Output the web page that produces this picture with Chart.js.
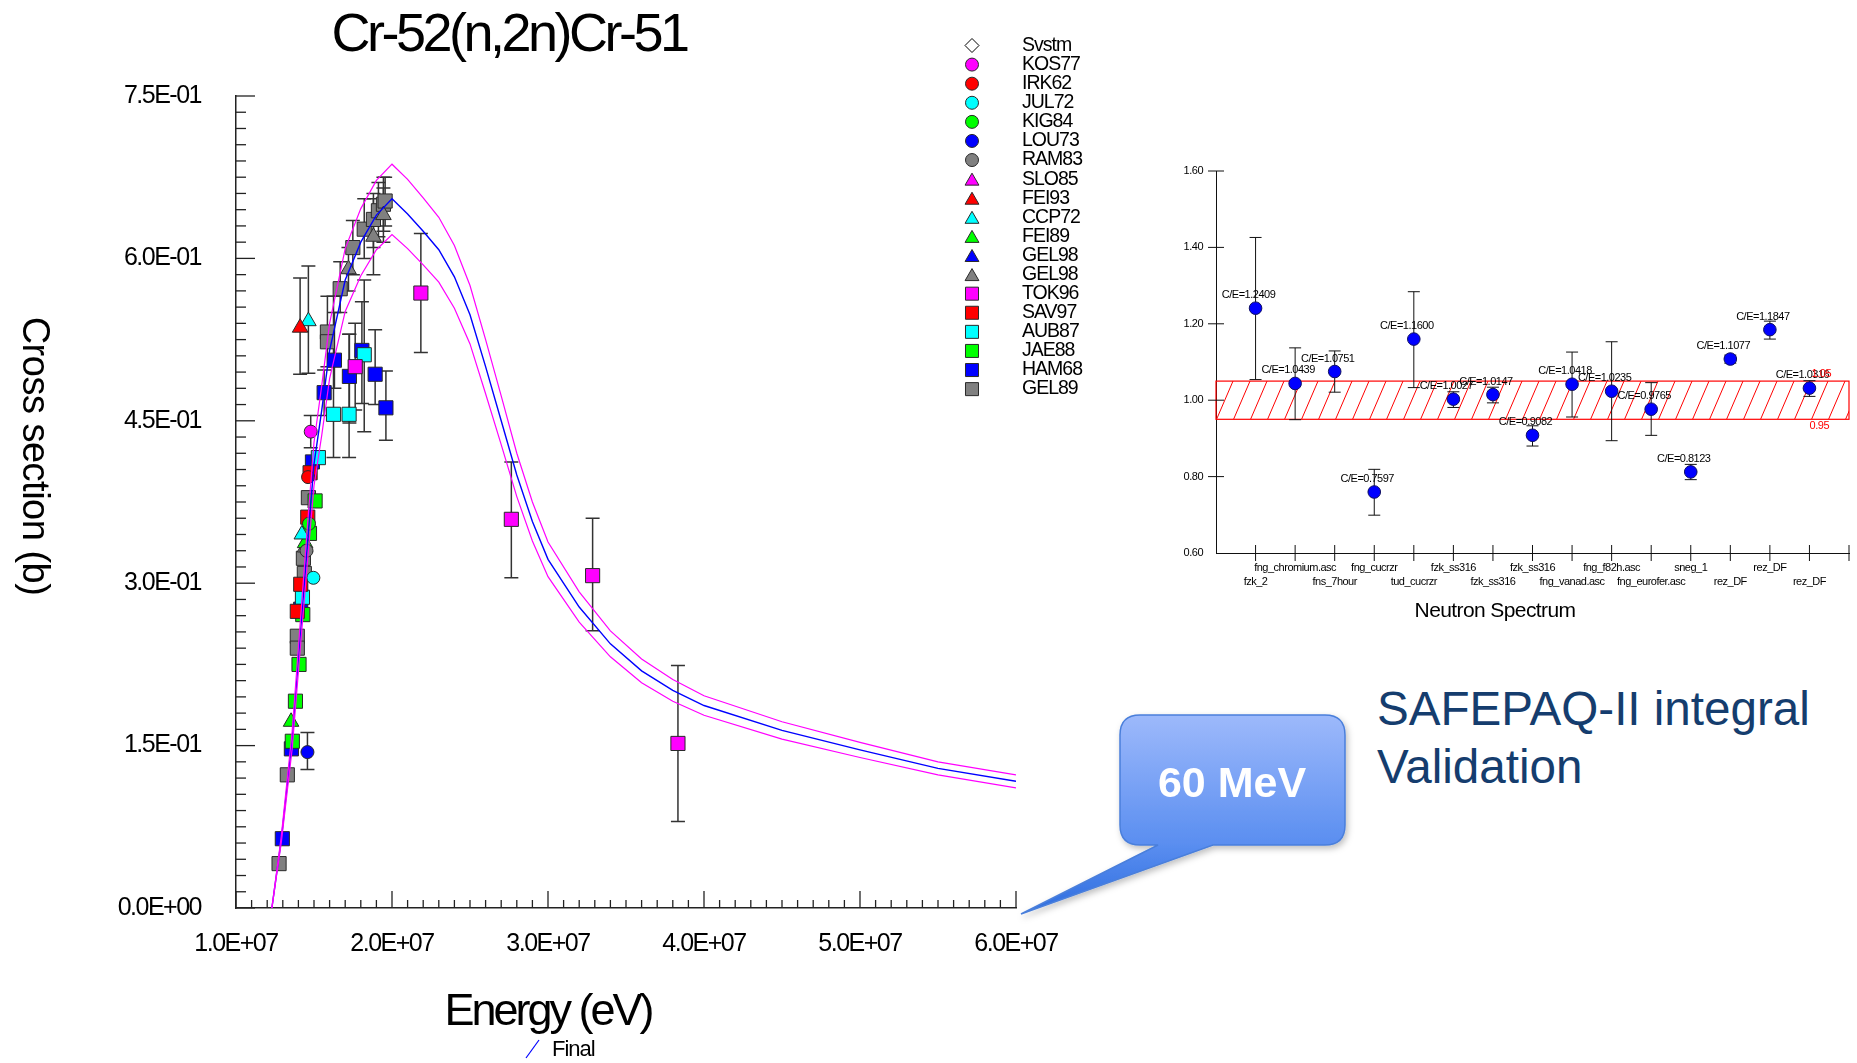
<!DOCTYPE html>
<html>
<head>
<meta charset="utf-8">
<title>Cr-52(n,2n)Cr-51</title>
<script src="https://cdn.jsdelivr.net/npm/chart.js@4.4.1/dist/chart.umd.min.js"></script>
<style>
  html, body { margin: 0; padding: 0; background: #fff; }
  body { width: 1857px; height: 1063px; position: relative; overflow: hidden; font-family: "Liberation Sans", Arial, sans-serif; }
  #main { position: absolute; left: 0; top: 0; }
  #inset { position: absolute; left: 1150px; top: 140px; }
  #callout { position: absolute; left: 1000px; top: 690px; }
  #safepaq { position: absolute; left: 1377px; top: 680px; color: #153d6e; font-size: 47.6px; line-height: 58px; white-space: nowrap; }
</style>
</head>
<body>
<canvas id="main" width="1150" height="1063"></canvas>
<canvas id="inset" width="707" height="490"></canvas>

<svg id="callout" width="370" height="240" viewBox="0 0 370 240">
  <defs>
    <linearGradient id="bubbleFill" gradientUnits="userSpaceOnUse" x1="0" y1="25" x2="0" y2="224">
      <stop offset="0" stop-color="#9db9fb"/>
      <stop offset="0.65" stop-color="#5a8ef0"/>
      <stop offset="1" stop-color="#2d6ddf"/>
    </linearGradient>
    <filter id="shade" x="-10%" y="-10%" width="130%" height="140%">
      <feDropShadow dx="2" dy="3" stdDeviation="3" flood-color="#000" flood-opacity="0.25"/>
    </filter>
  </defs>
  <path d="M140 25 H325 Q345 25 345 45 V135 Q345 155 325 155 H213 L21 224 L158 155 H140 Q120 155 120 135 V45 Q120 25 140 25 Z"
        fill="url(#bubbleFill)" stroke="#4a7fdb" stroke-width="1.5" filter="url(#shade)"/>
  <text x="232" y="107" text-anchor="middle" font-family="Liberation Sans, Arial, sans-serif" font-weight="bold" font-size="43" fill="#fff">60 MeV</text>
</svg>

<div id="safepaq">SAFEPAQ-II integral<br>Validation</div>

<script>
const FONT = '"Liberation Sans", Arial, sans-serif';
Chart.defaults.font.family = FONT;
Chart.defaults.color = '#000';

// ---- evaluated curve (Final) and its uncertainty envelope ----
const curveE = [1.23e7, 1.29e7, 1.36e7, 1.41e7, 1.46e7, 1.50e7, 1.55e7, 1.60e7, 1.70e7, 1.80e7, 1.90e7,
  2.00e7, 2.10e7, 2.20e7, 2.30e7, 2.40e7, 2.50e7, 2.60e7, 2.70e7, 2.80e7, 2.90e7, 3.00e7, 3.20e7,
  3.40e7, 3.60e7, 3.80e7, 4.00e7, 4.50e7, 5.00e7, 5.50e7, 6.00e7];
const finalXs = [0, 0.063, 0.155, 0.248, 0.34, 0.41, 0.46, 0.515, 0.58, 0.615, 0.64,
  0.655, 0.641, 0.625, 0.608, 0.583, 0.548, 0.50, 0.45, 0.40, 0.357, 0.322, 0.278,
  0.244, 0.219, 0.201, 0.187, 0.164, 0.146, 0.129, 0.117];
const upperXs = [0, 0.066, 0.163, 0.26, 0.357, 0.43, 0.483, 0.54, 0.609, 0.646, 0.672,
  0.687, 0.673, 0.656, 0.638, 0.612, 0.575, 0.525, 0.473, 0.42, 0.375, 0.338, 0.292,
  0.256, 0.23, 0.211, 0.196, 0.172, 0.153, 0.135, 0.123];
const lowerXs = [0, 0.06, 0.147, 0.236, 0.323, 0.39, 0.437, 0.489, 0.551, 0.584, 0.608,
  0.622, 0.609, 0.594, 0.578, 0.554, 0.521, 0.475, 0.428, 0.38, 0.339, 0.306, 0.264,
  0.232, 0.208, 0.191, 0.178, 0.156, 0.139, 0.123, 0.111];

// ---- experimental data: [energy eV, cross section b, low, high] ----
const svstm = [];
const kos77 = [[1.479e7, 0.440, 0.425, 0.455]];
const irk62 = [[1.462e7, 0.398]];
const jul72 = [[1.496e7, 0.305]];
const kig84 = [[1.468e7, 0.355]];
const lou73 = [[1.458e7, 0.144, 0.128, 0.162]];
const ram83 = [[1.452e7, 0.330]];
const slo85 = [];
const fei93 = [[1.411e7, 0.536, 0.493, 0.582]];
const ccp72 = [[1.464e7, 0.542, 0.494, 0.593], [1.422e7, 0.345]];
const fei89 = [[1.443e7, 0.337], [1.353e7, 0.172]];
const gel98b = [];
const gel98g = [[1.721e7, 0.590, 0.570, 0.610], [1.881e7, 0.620, 0.585, 0.655], [1.945e7, 0.640, 0.615, 0.665], [1.443e7, 0.333]];
const tok96 = [[1.764e7, 0.500, 0.460, 0.540], [2.185e7, 0.568, 0.513, 0.623], [2.765e7, 0.359, 0.305, 0.412],
  [3.286e7, 0.307, 0.256, 0.360], [3.833e7, 0.152, 0.080, 0.224]];
const sav97 = [[1.475e7, 0.402], [1.460e7, 0.361], [1.415e7, 0.299], [1.393e7, 0.274]];
const aub87 = [[1.625e7, 0.456, 0.416, 0.565], [1.725e7, 0.456, 0.416, 0.530], [1.822e7, 0.511, 0.440, 0.580],
  [1.528e7, 0.416], [1.426e7, 0.287]];
const jae88 = [[1.507e7, 0.376], [1.471e7, 0.346], [1.428e7, 0.271], [1.404e7, 0.225], [1.381e7, 0.191], [1.361e7, 0.154]];
const ham68 = [[1.490e7, 0.412], [1.565e7, 0.476, 0.455, 0.497], [1.631e7, 0.506, 0.480, 0.550],
  [1.727e7, 0.491, 0.448, 0.530], [1.807e7, 0.515, 0.466, 0.560], [1.892e7, 0.493, 0.465, 0.534],
  [1.961e7, 0.462, 0.432, 0.496], [1.415e7, 0.276], [1.355e7, 0.147], [1.297e7, 0.064]];
const gel89 = [[1.276e7, 0.041], [1.329e7, 0.123], [1.393e7, 0.251], [1.393e7, 0.240], [1.432e7, 0.323],
  [1.438e7, 0.309], [1.464e7, 0.379], [1.586e7, 0.532, 0.500, 0.565], [1.586e7, 0.523],
  [1.668e7, 0.572, 0.550, 0.597], [1.749e7, 0.610, 0.585, 0.635], [1.822e7, 0.627, 0.600, 0.655],
  [1.881e7, 0.636, 0.610, 0.660], [1.913e7, 0.644, 0.620, 0.670], [1.945e7, 0.650, 0.625, 0.675],
  [1.956e7, 0.653, 0.630, 0.675]];

// ---- integral validation (C/E per neutron spectrum) ----
const spectra = ['fzk_2', 'fng_chromium.asc', 'fns_7hour', 'fng_cucrzr', 'tud_cucrzr', 'fzk_ss316', 'fzk_ss316',
  'fzk_ss316', 'fng_vanad.asc', 'fng_f82h.asc', 'fng_eurofer.asc', 'sneg_1', 'rez_DF', 'rez_DF', 'rez_DF'];
const ceValues = [1.2409, 1.0439, 1.0751, 0.7597, 1.1600, 1.0027, 1.0147, 0.9082, 1.0418, 1.0235, 0.9765, 0.8123, 1.1077, 1.1847, 1.0316];
const ceLow = [1.054, 0.949, 1.021, 0.699, 1.033, 0.981, 0.993, 0.880, 0.956, 0.894, 0.908, 0.792, 1.097, 1.160, 1.010];
const ceHigh = [1.426, 1.137, 1.129, 0.819, 1.284, 1.022, 1.034, 0.933, 1.126, 1.153, 1.046, 0.832, 1.118, 1.207, 1.051];
const bandLow = 0.95;
const bandHigh = 1.05;

const MAG = '#ff00ff', RED = '#ff0000', CYA = '#00ffff', GRN = '#00ff00', BLU = '#0000ff', GRY = '#808080';

// label, marker, colour, points (legend follows this order)
const series = [
  ['Svstm', 'rectRot', '#ffffff', svstm],
  ['KOS77', 'circle', MAG, kos77],
  ['IRK62', 'circle', RED, irk62],
  ['JUL72', 'circle', CYA, jul72],
  ['KIG84', 'circle', GRN, kig84],
  ['LOU73', 'circle', BLU, lou73],
  ['RAM83', 'circle', GRY, ram83],
  ['SLO85', 'triangle', MAG, slo85],
  ['FEI93', 'triangle', RED, fei93],
  ['CCP72', 'triangle', CYA, ccp72],
  ['FEI89', 'triangle', GRN, fei89],
  ['GEL98', 'triangle', BLU, gel98b],
  ['GEL98', 'triangle', GRY, gel98g],
  ['TOK96', 'rect', MAG, tok96],
  ['SAV97', 'rect', RED, sav97],
  ['AUB87', 'rect', CYA, aub87],
  ['JAE88', 'rect', GRN, jae88],
  ['HAM68', 'rect', BLU, ham68],
  ['GEL89', 'rect', GRY, gel89]
];
const markerRadius = { circle: 6.5, triangle: 9, rect: 10, rectRot: 7 };

function fmtExp(v) {
  if (Math.abs(v) < 1e-12) return '0.0E+00';
  const parts = v.toExponential(1).split('e');
  const n = parseInt(parts[1], 10);
  return parts[0] + 'E' + (n < 0 ? '-' : '+') + String(Math.abs(n)).padStart(2, '0');
}

function drawMarker(ctx, style, radius, x, y) {
  if (Chart.helpers && Chart.helpers.drawPoint) {
    Chart.helpers.drawPoint(ctx, { pointStyle: style, radius: radius, rotation: 0, borderWidth: 1 }, x, y);
    return;
  }
  ctx.beginPath();
  ctx.arc(x, y, radius, 0, Math.PI * 2);
  ctx.fill();
  ctx.stroke();
}

function label(ctx, str, x, y, size, opts) {
  opts = opts || {};
  ctx.save();
  ctx.font = (opts.weight || '') + ' ' + size + 'px ' + FONT;
  ctx.letterSpacing = (opts.spacing || 0) + 'px';
  ctx.fillStyle = opts.color || '#000';
  ctx.textAlign = opts.align || 'center';
  ctx.textBaseline = opts.baseline || 'middle';
  ctx.translate(x, y);
  if (opts.rotate) ctx.rotate(opts.rotate);
  ctx.fillText(str, 0, 0);
  ctx.restore();
}

function errorBars(ctx, xs, ys, list, cap) {
  list.forEach(p => {
    if (p.lo == null) return;
    const px = xs.getPixelForValue(p.x);
    const y1 = ys.getPixelForValue(p.lo), y2 = ys.getPixelForValue(p.hi);
    ctx.beginPath();
    ctx.moveTo(px, y1); ctx.lineTo(px, y2);
    ctx.moveTo(px - cap, y1); ctx.lineTo(px + cap, y1);
    ctx.moveTo(px - cap, y2); ctx.lineTo(px + cap, y2);
    ctx.stroke();
  });
}

// ---------------- main cross-section plot ----------------
const curveSets = [
  { label: 'upper', data: curveE.map((e, i) => ({ x: e, y: upperXs[i] })), borderColor: MAG, borderWidth: 1.2 },
  { label: 'lower', data: curveE.map((e, i) => ({ x: e, y: lowerXs[i] })), borderColor: MAG, borderWidth: 1.2 },
  { label: 'Final', data: curveE.map((e, i) => ({ x: e, y: finalXs[i] })), borderColor: BLU, borderWidth: 1.4 }
].map(d => Object.assign(d, { showLine: true, pointRadius: 0, fill: false, tension: 0, order: 0 }));

const pointSets = series.map(([name, style, color, pts]) => ({
  label: name,
  data: pts.map(p => ({ x: p[0], y: p[1], lo: p[2], hi: p[3] })),
  pointStyle: style,
  pointRadius: markerRadius[style],
  backgroundColor: color,
  borderColor: '#2a2a2a',
  borderWidth: 1,
  showLine: false,
  order: 1
}));

const mainDecor = {
  id: 'mainDecor',
  beforeDraw(chart) { chart.ctx.letterSpacing = '-1.5px'; },
  beforeDatasetsDraw(chart) {
    const { ctx, scales: { x, y } } = chart;
    ctx.save();
    ctx.strokeStyle = '#333';
    ctx.lineWidth = 1.5;
    pointSets.forEach(ds => errorBars(ctx, x, y, ds.data, 7));
    ctx.restore();
  },
  afterDraw(chart) {
    const { ctx, scales: { x, y } } = chart;
    ctx.save();
    ctx.strokeStyle = '#222';
    ctx.lineWidth = 1.3;
    // inward minor / major ticks
    for (let i = 0; i <= 50; i++) {
      const px = x.getPixelForValue(1e7 + i * 1e6);
      const len = i % 10 === 0 ? 17 : 8;
      ctx.beginPath(); ctx.moveTo(px, y.bottom); ctx.lineTo(px, y.bottom - len); ctx.stroke();
    }
    for (let i = 0; i <= 50; i++) {
      const py = y.getPixelForValue(i * 0.015);
      const len = i % 10 === 0 ? 19 : 10;
      ctx.beginPath(); ctx.moveTo(x.left, py); ctx.lineTo(x.left + len, py); ctx.stroke();
    }
    ctx.restore();

    label(ctx, 'Cr-52(n,2n)Cr-51', 509, 51, 54, { spacing: -3.5, baseline: 'alphabetic' });
    label(ctx, 'Energy (eV)', 548, 1025, 45, { spacing: -3, baseline: 'alphabetic' });
    label(ctx, 'Cross section (b)', 33, 456, 38, { spacing: -0.5, rotate: Math.PI / 2 });

    // legend column
    series.forEach(([name, style, color], i) => {
      const cy = 45.5 + i * 19.09;
      ctx.save();
      ctx.fillStyle = color;
      ctx.strokeStyle = style === 'rectRot' ? '#000' : '#2a2a2a';
      ctx.lineWidth = 1;
      const r = style === 'rect' ? 9.2 : style === 'triangle' ? 8 : markerRadius[style];
      drawMarker(ctx, style, r, 972, cy + (style === 'triangle' ? 2 : 0));
      ctx.restore();
      label(ctx, name, 1022, cy, 19.5, { spacing: -1, align: 'left' });
    });

    // "Final" key under the axis title
    ctx.save();
    ctx.strokeStyle = BLU;
    ctx.lineWidth = 1.2;
    ctx.beginPath(); ctx.moveTo(526, 1058); ctx.lineTo(539, 1040); ctx.stroke();
    ctx.restore();
    label(ctx, 'Final', 552, 1050, 22, { spacing: -1, align: 'left' });
  }
};

new Chart(document.getElementById('main'), {
  type: 'scatter',
  data: { datasets: [...curveSets, ...pointSets] },
  options: {
    responsive: false,
    animation: false,
    layout: { padding: { top: 96, right: 134, left: 0, bottom: 0 } },
    plugins: { legend: { display: false }, tooltip: { enabled: false } },
    scales: {
      x: {
        type: 'linear', min: 1e7, max: 6e7,
        afterFit: s => { s.height = 155; },
        border: { color: '#222', width: 1.5 },
        grid: { display: false, drawTicks: false },
        ticks: { stepSize: 1e7, autoSkip: false, maxRotation: 0, padding: 21,
          font: { size: 25 }, color: '#000', callback: v => fmtExp(v) }
      },
      y: {
        type: 'linear', min: 0, max: 0.75,
        afterFit: s => { s.width = 236; },
        border: { color: '#222', width: 1.5 },
        grid: { display: false, drawTicks: false },
        ticks: { stepSize: 0.15, padding: 35, font: { size: 25 }, color: '#000', callback: v => fmtExp(v) }
      }
    }
  },
  plugins: [mainDecor]
});

// ---------------- C/E inset ----------------
const cePoints = ceValues.map((v, i) => ({ x: i + 1, y: v, lo: ceLow[i], hi: ceHigh[i] }));

const insetDecor = {
  id: 'insetDecor',
  beforeDraw(chart) { chart.ctx.letterSpacing = '-0.5px'; },
  beforeDatasetsDraw(chart) {
    const { ctx, scales: { x, y } } = chart;
    const x0 = x.getPixelForValue(0), x1 = x.getPixelForValue(16);
    const yt = y.getPixelForValue(bandHigh), yb = y.getPixelForValue(bandLow);
    ctx.save();
    ctx.beginPath(); ctx.rect(x0, yt, x1 - x0, yb - yt); ctx.clip();
    ctx.strokeStyle = '#ff0000';
    ctx.lineWidth = 1;
    const dx = (yb - yt) * 0.43;
    for (let sx = x0 - dx; sx < x1 + dx; sx += 17) {
      ctx.beginPath(); ctx.moveTo(sx, yb); ctx.lineTo(sx + dx, yt); ctx.stroke();
    }
    ctx.restore();
    ctx.save();
    ctx.strokeStyle = '#ff0000';
    ctx.lineWidth = 1.2;
    ctx.strokeRect(x0, yt, x1 - x0, yb - yt);
    ctx.strokeStyle = '#111';
    ctx.lineWidth = 1;
    errorBars(ctx, x, y, cePoints, 6);
    ctx.restore();
  },
  afterDraw(chart) {
    const { ctx, scales: { x, y } } = chart;
    ctx.save();
    ctx.strokeStyle = '#111';
    ctx.lineWidth = 1;
    for (let i = 1; i <= 16; i++) {
      const px = x.getPixelForValue(i);
      ctx.beginPath(); ctx.moveTo(px, y.bottom - 8); ctx.lineTo(px, y.bottom + 8); ctx.stroke();
    }
    for (let v = 0.8; v <= 1.61; v += 0.2) {
      const py = y.getPixelForValue(v);
      ctx.beginPath(); ctx.moveTo(x.left - 8, py); ctx.lineTo(x.left + 8, py); ctx.stroke();
    }
    ctx.restore();

    cePoints.forEach(p => {
      label(ctx, 'C/E=' + p.y.toFixed(4), x.getPixelForValue(p.x) - 7, y.getPixelForValue(p.y) - 13, 11, { spacing: -0.5 });
    });
    label(ctx, bandHigh.toFixed(2), x.getPixelForValue(15.3), y.getPixelForValue(bandHigh) - 7, 11, { spacing: -0.5, color: '#ff0000' });
    label(ctx, bandLow.toFixed(2), x.getPixelForValue(15.25), y.getPixelForValue(bandLow) + 7, 11, { spacing: -0.5, color: '#ff0000' });
    label(ctx, 'Neutron Spectrum', 345, 471, 21, { spacing: -0.6 });
  }
};

new Chart(document.getElementById('inset'), {
  type: 'scatter',
  data: {
    datasets: [{
      data: cePoints,
      pointStyle: 'circle',
      pointRadius: 6.3,
      backgroundColor: BLU,
      borderColor: '#101060',
      borderWidth: 1
    }]
  },
  options: {
    responsive: false,
    animation: false,
    layout: { padding: { top: 31, right: 4, left: 0, bottom: 0 } },
    plugins: { legend: { display: false }, tooltip: { enabled: false } },
    scales: {
      x: {
        type: 'linear', min: 0, max: 16,
        afterFit: s => { s.height = 77; },
        border: { color: '#111', width: 1 },
        grid: { display: false, drawTicks: false },
        ticks: {
          stepSize: 1, autoSkip: false, maxRotation: 0, minRotation: 0, padding: 8,
          font: { size: 11, lineHeight: 1.27 }, color: '#000',
          callback: v => {
            const i = Math.round(v) - 1;
            if (i < 0 || i >= spectra.length) return '';
            return i % 2 === 0 ? ['', spectra[i]] : spectra[i];
          }
        }
      },
      y: {
        type: 'linear', min: 0.6, max: 1.6,
        afterFit: s => { s.width = 66; },
        border: { color: '#111', width: 1 },
        grid: { display: false, drawTicks: false },
        ticks: { stepSize: 0.2, padding: 13, font: { size: 11 }, color: '#000', callback: v => v.toFixed(2) }
      }
    }
  },
  plugins: [insetDecor]
});
</script>
</body>
</html>
